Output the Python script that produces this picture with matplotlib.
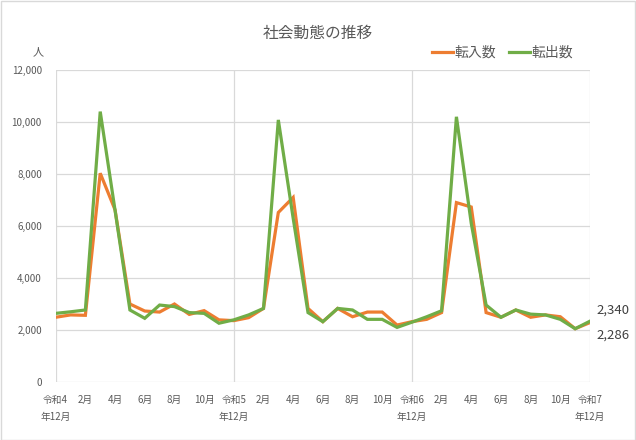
import matplotlib
matplotlib.use("Agg")
import matplotlib.pyplot as plt

plt.rcParams["font.family"] = ["Noto Sans CJK JP", "DejaVu Sans"]

# 令和4年12月 .. 令和7年12月 (monthly)
tick_labels = ["令和4\n年12月", "2月", "4月", "6月", "8月", "10月",
               "令和5\n年12月", "2月", "4月", "6月", "8月", "10月",
               "令和6\n年12月", "2月", "4月", "6月", "8月", "10月",
               "令和7\n年12月"]
moving_in = [2490, 2580, 2565, 8030, 6620, 3000, 2730, 2690, 3000, 2600, 2745, 2390,
             2360, 2475, 2830, 6520, 7100, 2830, 2320, 2830, 2510, 2690, 2690, 2190,
             2320, 2410, 2670, 6900, 6730, 2670, 2490, 2770, 2490, 2580, 2510, 2050,
             2286]
moving_out = [2640, 2700, 2770, 10400, 6600, 2770, 2450, 2960, 2900, 2670, 2640, 2260,
              2390, 2580, 2830, 10080, 6300, 2670, 2320, 2830, 2770, 2410, 2410, 2100,
              2300, 2510, 2740, 10200, 6100, 2960, 2490, 2770, 2610, 2580, 2410, 2050,
              2340]

ORANGE = "#ED7D31"
GREEN = "#70AD47"
GRID = "#D9D9D9"
TEXT = "#595959"

fig = plt.figure(figsize=(6.36, 4.40), dpi=100)
ax = fig.add_axes([55.7 / 636, 1 - 382 / 440, (590 - 55.7) / 636, (382 - 70) / 440])

x = list(range(len(moving_in)))
ax.plot(x, moving_in, color=ORANGE, lw=2.3, label="転入数", solid_joinstyle="miter")
ax.plot(x, moving_out, color=GREEN, lw=2.3, label="転出数", solid_joinstyle="miter")

ax.set_xlim(0, 36)
ax.set_ylim(0, 12000)
ax.set_yticks(range(0, 12001, 2000))
ax.set_yticklabels([f"{v:,}" for v in range(0, 12001, 2000)])
ax.set_xticks(range(0, 37, 2))
ax.set_xticklabels(tick_labels)
ax.tick_params(length=0, labelsize=7, colors=TEXT)
ax.tick_params(axis="x", pad=9)
ax.tick_params(axis="y", pad=10)
for lbl in ax.get_xticklabels():
    lbl.set_linespacing(1.95)
for s in ax.spines.values():
    s.set_visible(False)
for v in range(0, 12001, 2000):
    ax.axhline(v, color=GRID, lw=0.9, zorder=0)
for v in (0, 12, 24, 36):
    ax.axvline(v, color=GRID, lw=0.9, zorder=0)

# end labels
ax.annotate(f"{moving_out[-1]:,}", (36, moving_out[-1]), xytext=(5, 8),
            textcoords="offset points", fontsize=9.5, color="#404040", va="center", ha="left",
            annotation_clip=False)
ax.annotate(f"{moving_in[-1]:,}", (36, moving_in[-1]), xytext=(5, -9),
            textcoords="offset points", fontsize=9.5, color="#404040", va="center", ha="left",
            annotation_clip=False)

fig.text(318 / 636, 1 - 33 / 440, "社会動態の推移", ha="center", va="center",
         fontsize=11.3, color=TEXT)
fig.text(38.5 / 636, 1 - 52 / 440, "人", ha="center", va="center", fontsize=8, color=TEXT)
fig.legend(loc="center right", bbox_to_anchor=(586 / 636, 1 - 53 / 440), ncol=2,
           frameon=False, fontsize=10, handlelength=1.5, handletextpad=0.15,
           columnspacing=0.9, labelcolor=TEXT)

fig.patches.append(plt.Rectangle((0.001, 0.001), 0.997, 0.997, transform=fig.transFigure,
                                 fill=False, edgecolor=GRID, lw=1))
fig.savefig("out.png", dpi=100)
